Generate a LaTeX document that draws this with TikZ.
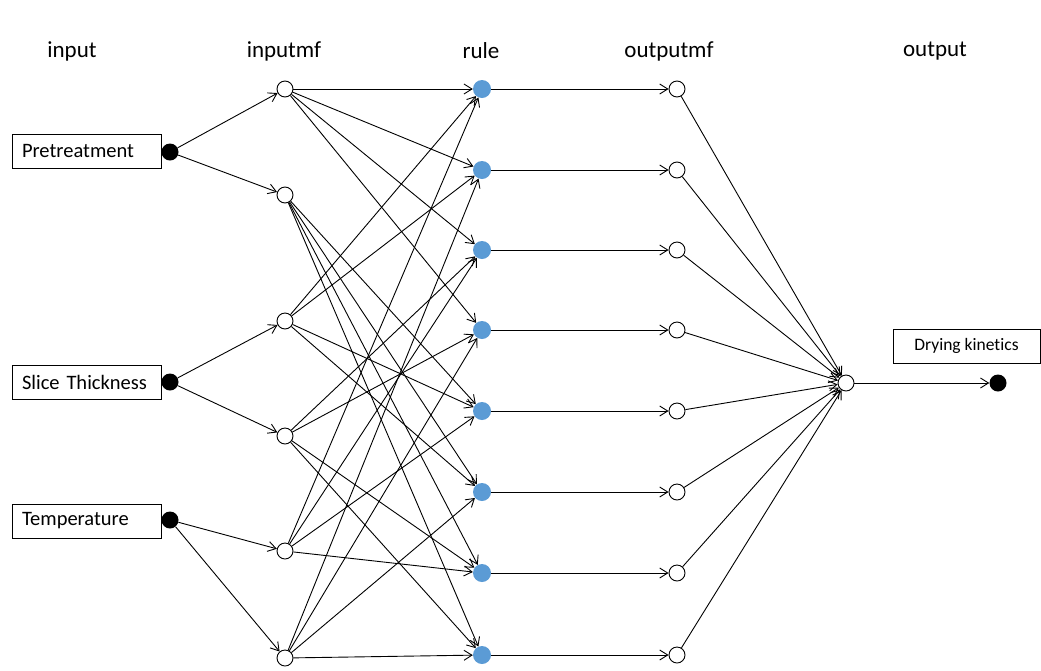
\documentclass[tikz,border=0pt]{standalone}
\usepackage{fontspec}
\setmainfont{Carlito}[Ligatures=NoCommon]
\usetikzlibrary{arrows.meta}

\definecolor{ruleblue}{RGB}{91,155,213}

\tikzset{
	mf/.style={circle, draw, fill=white, line width=0.9pt, minimum size=16pt, inner sep=0pt},
	rulenode/.style={circle, fill=ruleblue, minimum size=18pt, inner sep=0pt},
	dot/.style={circle, fill=black, minimum size=17pt, inner sep=0pt},
	varbox/.style={draw, line width=0.9pt, text width=129pt, inner xsep=10pt, minimum height=34pt, align=left, font=\fontsize{20.5}{24}\selectfont},
	conn/.style={-{Straight Barb[length=8pt,width=10pt]}, line width=0.9pt},
	layer/.style={font=\fontsize{23}{27}\selectfont}
}

\begin{document}
\begin{tikzpicture}[x=1pt, y=-1pt]
	\useasboundingbox (0,0) rectangle (1041,670);
	
	% layer titles
	\node [layer] (tin) at (72,51) {input};
	\node [layer] (tinmf) at (284,51) {inputmf};
	\node [layer] (trule) at (481,51) {rule};
	\node [layer] (toutmf) at (669,51) {outputmf};
	\node [layer] (tout) at (935,51) {output};
	
	% inputs
	\node [varbox] (pre) at (86.5,151) {Pretreatment};
	\node [varbox] (slice) at (86.5,382.5) {Slice Thickness};
	\node [varbox] (temp) at (86.5,521) {Temperature};
	\node [dot] (x1) at (170,152) {};
	\node [dot] (x2) at (170,382) {};
	\node [dot] (x3) at (170,520) {};
	
	% input membership functions
	\node [mf] (a1) at (285,89) {};
	\node [mf] (a2) at (285,195) {};
	\node [mf] (b1) at (285,321) {};
	\node [mf] (b2) at (285,436) {};
	\node [mf] (c1) at (285,551) {};
	\node [mf] (c2) at (285,658) {};
	
	% rules and output membership functions
	\foreach \i/\y in {1/89,2/170,3/250,4/330,5/411,6/492,7/573,8/655} {
		\node [rulenode] (r\i) at (482,\y) {};
		\node [mf] (o\i) at (677,\y) {};
	}
	
	% output
	\node [mf] (out) at (846,383) {};
	\node [dot] (y) at (998,383) {};
	\node [draw, line width=0.9pt, minimum width=147pt, minimum height=34pt, font=\fontsize{17.5}{20}\selectfont] (dk) at (966.5,346) {Drying kinetics};
	
	% connections
	\draw [conn] (x1) -- (a1);
	\draw [conn] (x1) -- (a2);
	\draw [conn] (x2) -- (b1);
	\draw [conn] (x2) -- (b2);
	\draw [conn] (x3) -- (c1);
	\draw [conn] (x3) -- (c2);
	\foreach \s/\r in {a1/1,a1/2,a1/3,a1/4,a2/5,a2/6,a2/7,a2/8,
		b1/1,b1/2,b1/5,b1/6,b2/3,b2/4,b2/7,b2/8,
		c1/1,c1/3,c1/5,c1/7,c2/2,c2/4,c2/6,c2/8}
		\draw [conn] (\s) -- (r\r);
	\foreach \i in {1,...,8} {
		\draw [conn] (r\i) -- (o\i);
		\draw [conn] (o\i) -- (out);
	}
	\draw [conn] (out) -- (y);
	
\end{tikzpicture}
\end{document}
